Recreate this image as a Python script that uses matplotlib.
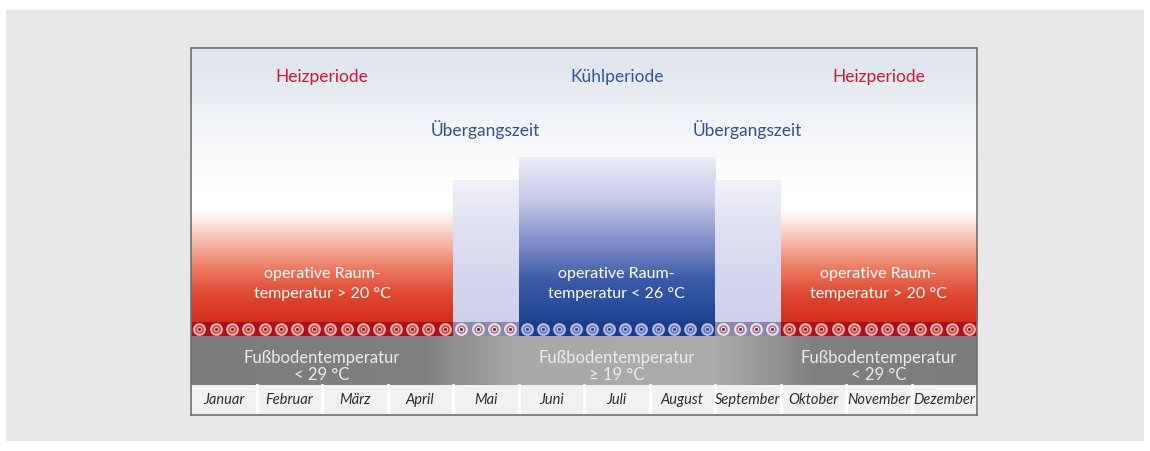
import matplotlib.pyplot as plt
import numpy as np
from matplotlib.colors import LinearSegmentedColormap
from matplotlib.patches import Rectangle

months = ['Januar', 'Februar', 'März', 'April', 'Mai', 'Juni', 'Juli',
          'August', 'September', 'Oktober', 'November', 'Dezember']
# h = Heizperiode, u = Übergangszeit, k = Kühlperiode
period = ['h', 'h', 'h', 'h', 'u', 'k', 'k', 'k', 'u', 'h', 'h', 'h']
dots_per_month = 4

period_names = {'h': 'Heizperiode', 'k': 'Kühlperiode', 'u': 'Übergangszeit'}
room_text = {'h': 'operative Raum-\ntemperatur > 20 °C',
             'k': 'operative Raum-\ntemperatur < 26 °C'}
# floor temperature: heating months vs. the rest
floor_mode = ['h' if p == 'h' else 'k' for p in period]
floor_text = {'h': ('Fußbodentemperatur', '< 29 °C'),
              'k': ('Fußbodentemperatur', '≥ 19 °C')}

FONT = ['Lato', 'DejaVu Sans']
plt.rcParams['font.family'] = FONT


def runs(seq):
    out = []
    start = 0
    for i in range(1, len(seq) + 1):
        if i == len(seq) or seq[i] != seq[start]:
            out.append((seq[start], start, i))
            start = i
    return out


def vgrad(ax, x0, x1, y0, y1, colors, z=1):
    cmap = LinearSegmentedColormap.from_list('g', colors)
    arr = np.linspace(0, 1, 256).reshape(-1, 1)
    ax.imshow(arr, cmap=cmap, extent=(x0, x1, y0, y1), origin='lower',
              aspect='auto', interpolation='bilinear', zorder=z)


fig = plt.figure(figsize=(11.5, 4.51), dpi=100)
fig.patch.set_facecolor('white')

# page background
bg = fig.add_axes([0, 0, 1, 1])
bg.set_xlim(0, 1150)
bg.set_ylim(451, 0)
bg.axis('off')
bg.add_patch(Rectangle((6, 10), 1138, 431, color='#e8e8e8', lw=0))

# chart box (y in pixel-like units from bottom)
ax = fig.add_axes([191 / 1150, 36 / 451, 786 / 1150, 367 / 451])
H = 367
ROW, BAND, STRIP = 30, 79, 93

# sky
vgrad(ax, 0, 12, 225, H, ['#ffffff', '#f6f8fa', '#e9edf3', '#dfe4ec'])
ax.add_patch(Rectangle((0, 0), 12, 225, color='white', lw=0, zorder=0.5))

seg_colors = {
    'h': ['#d42c1c', '#df4a33', '#ec7f67', '#f7c3b5', '#ffffff'],
    'k': ['#1d4494', '#3a5aa8', '#8492ca', '#c7cbe7', '#ebecf6'],
    'u': ['#cfd1ea', '#d5d7ee', '#dfe1f2', '#f0f1f8'],
}
seg_top = {'h': 205, 'k': 258, 'u': 235}
for p, a, b in runs(period):
    vgrad(ax, a, b, STRIP, seg_top[p], seg_colors[p], z=2)

# period labels
for p, a, b in runs(period):
    if p == 'u':
        ax.text((a + b) / 2, 285, period_names[p], ha='center', va='center',
                fontsize=12.5, color='#34508f', zorder=5)
    else:
        col = '#c8193c' if p == 'h' else '#34549a'
        ax.text((a + b) / 2, 338, period_names[p], ha='center', va='center',
                fontsize=12.5, color=col, zorder=5)
        l1, l2 = room_text[p].split('\n')
        ax.text((a + b) / 2, 141, l1, ha='center', va='center',
                fontsize=11.5, color='white', zorder=5)
        ax.text((a + b) / 2, 121, l2, ha='center', va='center',
                fontsize=11.5, color='white', zorder=5)

# heating pipe strip with dots
strip_bg = {'h': '#a8111e', 'k': '#1c3a8a', 'u': '#8c89a5'}
dot_outer = {'h': '#f3b2a8', 'k': '#b3bfe6', 'u': '#e8e4ee'}
dot_ring = {'h': '#c43a3a', 'k': '#5a70b8', 'u': '#a06a86'}
dot_core = {'h': '#a01020', 'k': '#2c4896', 'u': '#8a1838'}
for i, p in enumerate(period):
    ax.add_patch(Rectangle((i, BAND), 1, STRIP - BAND, color=strip_bg[p],
                           lw=0, zorder=3))
    xs = i + (np.arange(dots_per_month) + 0.5) / dots_per_month
    ys = np.full(dots_per_month, 86)
    ax.scatter(xs, ys, s=85, color=dot_outer[p], lw=0, zorder=4)
    ax.scatter(xs, ys, s=26, facecolor=dot_outer[p], edgecolor=dot_ring[p],
               lw=1.0, zorder=4.1)
    ax.scatter(xs, ys, s=5, color=dot_core[p], lw=0, zorder=4.2)

# floor temperature band
gcmap = LinearSegmentedColormap.from_list('band', [
    (0, '#7c7c7c'), (3.6 / 12, '#808080'), (4.0 / 12, '#8e8e8e'),
    (5.0 / 12, '#a9a9a9'), (8.0 / 12, '#ababab'), (9.0 / 12, '#919191'),
    (9.5 / 12, '#808080'), (1, '#7c7c7c')])
ax.imshow(np.linspace(0, 1, 512).reshape(1, -1), cmap=gcmap,
          extent=(0, 12, ROW, BAND), aspect='auto', interpolation='bilinear',
          zorder=3)
for p, a, b in runs(floor_mode):
    t1, t2 = floor_text[p]
    ax.text((a + b) / 2, 57.5, t1, ha='center', va='center', fontsize=12,
            color='#ececec', zorder=5)
    ax.text((a + b) / 2, 39.5, t2, ha='center', va='center', fontsize=12,
            color='#ececec', zorder=5)

# month row
ax.add_patch(Rectangle((0, 0), 12, ROW, color='#f1f1f1', lw=0, zorder=3))
for i, m in enumerate(months):
    if i > 0:
        ax.plot([i, i], [0, ROW], color='white', lw=2, zorder=4)
    ax.text(i + 0.5, 15, m, ha='center', va='center', fontsize=10.5,
            style='italic', color='#2e2e2e', zorder=5)

ax.set_xlim(0, 12)
ax.set_ylim(0, H)
ax.set_xticks([])
ax.set_yticks([])
for s in ax.spines.values():
    s.set_color('#707070')
    s.set_linewidth(1.2)
    s.set_zorder(10)

fig.savefig('out.png', dpi=100)
